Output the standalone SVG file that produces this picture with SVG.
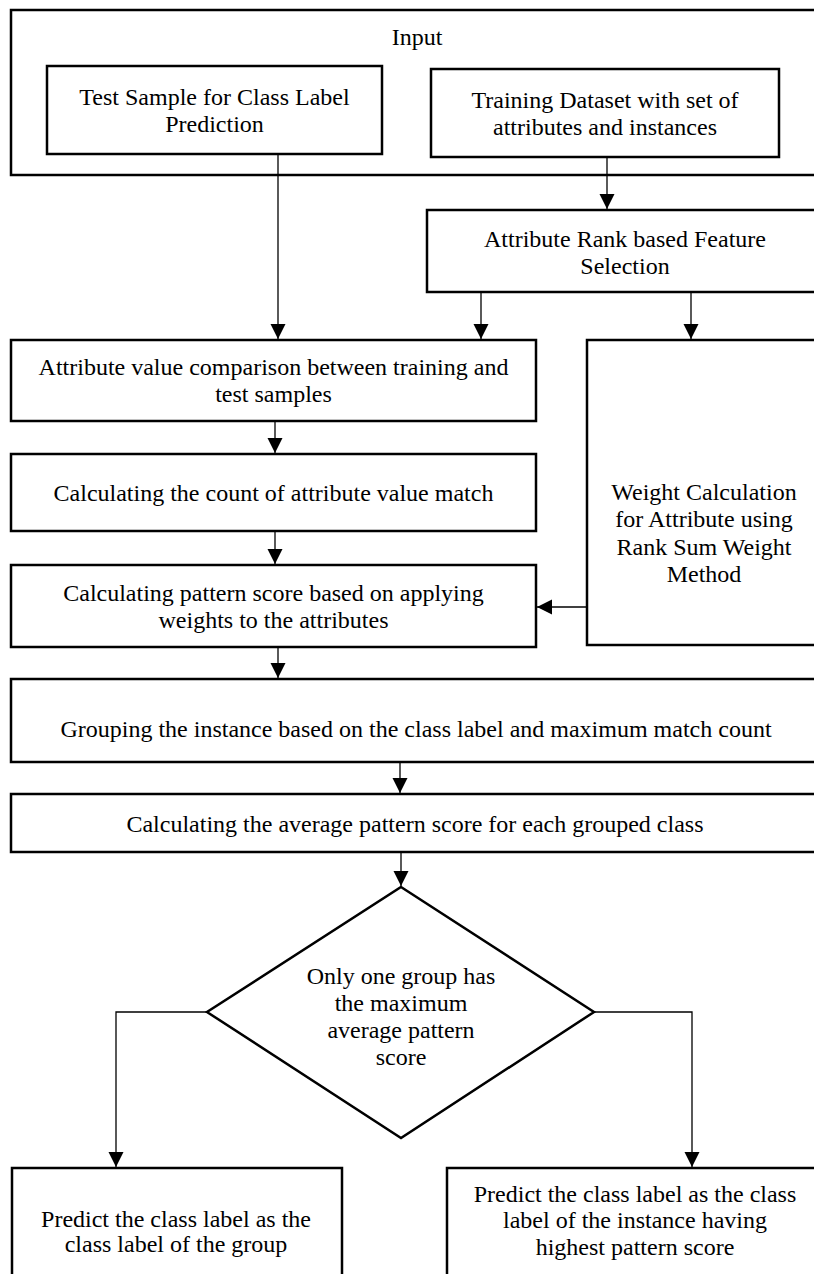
<svg xmlns="http://www.w3.org/2000/svg" width="814" height="1274" viewBox="0 0 814 1274">
<style>
.box{fill:#fff;stroke:#000;stroke-width:2.5}
.t{font-family:"Liberation Serif","Times New Roman",serif;font-size:24px;fill:#000;text-anchor:middle}
.c{fill:none;stroke:#000;stroke-width:1.3}
</style>
<defs>
<marker id="ah" markerUnits="userSpaceOnUse" markerWidth="16" markerHeight="16" viewBox="0 0 16 16" refX="15" refY="8" orient="auto">
<path d="M0,0.5 L15,8 L0,15.5 Z" fill="#000"/>
</marker>
</defs>
<rect width="814" height="1274" fill="#fff"/>
<g id="input">
<rect class="box" x="11" y="10" width="830" height="165"/>
<text class="t" x="417" y="45">Input</text>
</g>
<g id="test-sample">
<rect class="box" x="47" y="66" width="335" height="88"/>
<text class="t" x="214.5" y="105">Test Sample for Class Label</text>
<text class="t" x="214.5" y="132">Prediction</text>
</g>
<g id="training">
<rect class="box" x="431" y="69" width="348" height="88"/>
<text class="t" x="605" y="108">Training Dataset with set of</text>
<text class="t" x="605" y="135">attributes and instances</text>
</g>
<g id="rank">
<rect class="box" x="427" y="210" width="420" height="82"/>
<text class="t" x="625" y="247">Attribute Rank based Feature</text>
<text class="t" x="625" y="274">Selection</text>
</g>
<g id="compare">
<rect class="box" x="11" y="340" width="525" height="81"/>
<text class="t" x="273.5" y="375">Attribute value comparison between training and</text>
<text class="t" x="273.5" y="402">test samples</text>
</g>
<g id="count">
<rect class="box" x="11" y="454" width="525" height="77"/>
<text class="t" x="273.5" y="501">Calculating the count of attribute value match</text>
</g>
<g id="weight">
<rect class="box" x="587" y="340" width="260" height="305"/>
<text class="t" x="704" y="500">Weight Calculation</text>
<text class="t" x="704" y="527">for Attribute using</text>
<text class="t" x="704" y="555">Rank Sum Weight</text>
<text class="t" x="704" y="582">Method</text>
</g>
<g id="pattern">
<rect class="box" x="11" y="565" width="525" height="82"/>
<text class="t" x="273.5" y="601">Calculating pattern score based on applying</text>
<text class="t" x="273.5" y="628">weights to the attributes</text>
</g>
<g id="grouping">
<rect class="box" x="11" y="679" width="830" height="83"/>
<text class="t" x="416" y="737">Grouping the instance based on the class label and maximum match count</text>
</g>
<g id="average">
<rect class="box" x="11" y="794" width="830" height="58"/>
<text class="t" x="415" y="832">Calculating the average pattern score for each grouped class</text>
</g>
<g id="decision">
<polygon class="box" points="401,887 594,1012 401,1138 207,1012"/>
<text class="t" x="401" y="984">Only one group has</text>
<text class="t" x="401" y="1011">the maximum</text>
<text class="t" x="401" y="1038">average pattern</text>
<text class="t" x="401" y="1065">score</text>
</g>
<g id="predict-group">
<rect class="box" x="12" y="1168" width="330" height="130"/>
<text class="t" x="176" y="1227">Predict the class label as the</text>
<text class="t" x="176" y="1252">class label of the group</text>
</g>
<g id="predict-instance">
<rect class="box" x="447" y="1168" width="400" height="130"/>
<text class="t" x="635" y="1202">Predict the class label as the class</text>
<text class="t" x="635" y="1228">label of the instance having</text>
<text class="t" x="635" y="1255">highest pattern score</text>
</g>
<g id="connectors">
<path class="c" d="M278,154 V339" marker-end="url(#ah)"/>
<path class="c" d="M607,157 V209" marker-end="url(#ah)"/>
<path class="c" d="M481,292 V339" marker-end="url(#ah)"/>
<path class="c" d="M691,292 V339" marker-end="url(#ah)"/>
<path class="c" d="M275,421 V453" marker-end="url(#ah)"/>
<path class="c" d="M275,531 V564" marker-end="url(#ah)"/>
<path class="c" d="M587,607 H537" marker-end="url(#ah)"/>
<path class="c" d="M278,647 V678" marker-end="url(#ah)"/>
<path class="c" d="M400,762 V793" marker-end="url(#ah)"/>
<path class="c" d="M401,852 V886" marker-end="url(#ah)"/>
<path class="c" d="M207,1012 H116 V1167" marker-end="url(#ah)"/>
<path class="c" d="M594,1012 H692 V1167" marker-end="url(#ah)"/>
</g>
</svg>
